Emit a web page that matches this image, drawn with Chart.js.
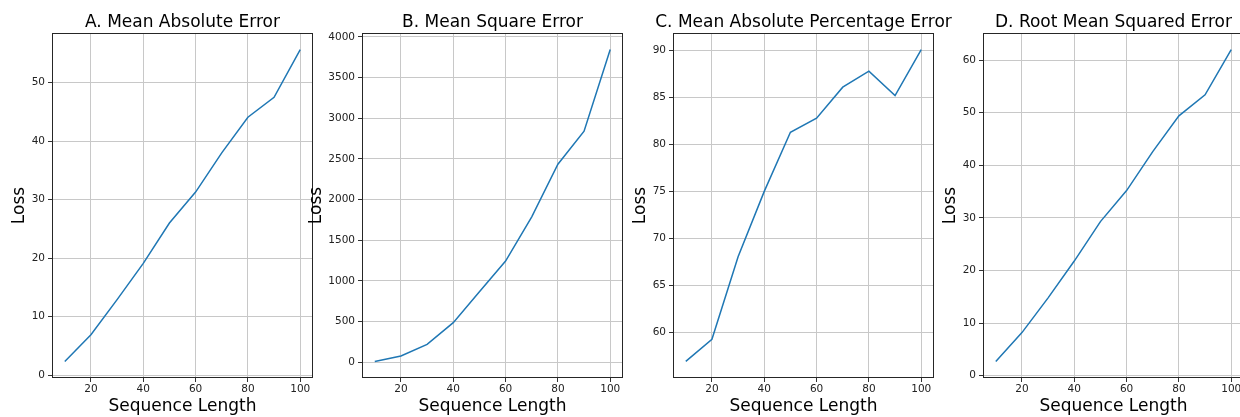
<!DOCTYPE html>
<html>
<head>
<meta charset="utf-8">
<script src="https://cdn.jsdelivr.net/npm/chart.js@4.4.1/dist/chart.umd.min.js"></script>
<style>
  html, body { margin: 0; padding: 0; background: #fff; overflow: hidden; }
  #wrap { position: relative; width: 1240px; height: 417px; overflow: hidden; }
  canvas { position: absolute; top: 0; }
</style>
</head>
<body>
<div id="wrap">
  <canvas id="maeChart" width="349" height="417" style="left:8px"></canvas>
  <canvas id="mseChart" width="373" height="417" style="left:306px"></canvas>
  <canvas id="mapeChart" width="349" height="417" style="left:629px"></canvas>
  <canvas id="rmseChart" width="347" height="417" style="left:940px"></canvas>
</div>
<script>
// values
const seqLength = [10, 20, 30, 40, 50, 60, 70, 80, 90, 100];
const maeLoss = [2.33, 6.9, 12.9, 19.1, 26.0, 31.3, 38.0, 44.1, 47.5, 55.67];
const mseLoss = [11, 78, 221, 487, 868, 1245, 1789, 2436, 2841, 3845];
const mapeLoss = [56.9, 59.26, 68.05, 75.0, 81.3, 82.8, 86.1, 87.8, 85.2, 90.1];
const rmseLoss = [2.72, 8.2, 14.8, 21.8, 29.3, 35.2, 42.6, 49.4, 53.4, 62.0];

// tick labels
const xTicks = [20, 40, 60, 80, 100];
const maeTicks = [0, 10, 20, 30, 40, 50];
const mseTicks = [0, 500, 1000, 1500, 2000, 2500, 3000, 3500, 4000];
const mapeTicks = [60, 65, 70, 75, 80, 85, 90];
const rmseTicks = [0, 10, 20, 30, 40, 50, 60];

const FONT = "'DejaVu Sans', sans-serif";

// matplotlib style 5% margins
function limits(arr) {
  const lo = Math.min(...arr), hi = Math.max(...arr);
  const m = (hi - lo) * 0.05;
  return { min: lo - m, max: hi + m };
}

// draws the four spines round the plot area
const frame = {
  id: 'frame',
  afterDatasetsDraw(chart) {
    const { ctx, chartArea: a } = chart;
    ctx.save();
    ctx.strokeStyle = '#262626';
    ctx.lineWidth = 1;
    const l = Math.round(a.left) - 0.5, t = Math.round(a.top) - 0.5;
    const r = Math.round(a.right) + 0.5, b = Math.round(a.bottom) + 0.5;
    ctx.strokeRect(l, t, r - l, b - t);
    ctx.restore();
  }
};

// an empty right axis as wide as the left one keeps the title centred on the plot
function makeChart(id, title, values, yTicks, yWidth, lossPad) {
  const xl = limits(seqLength);
  const yl = limits(values);
  const grid = {
    color: '#c8c8c8',
    lineWidth: 1,
    tickLength: 5,
    tickColor: '#333',
    tickWidth: 1
  };
  return new Chart(document.getElementById(id), {
    type: 'line',
    data: {
      datasets: [{
        data: seqLength.map((x, i) => ({ x: x, y: values[i] })),
        borderColor: '#1f77b4',
        borderWidth: 1.5,
        pointRadius: 0,
        fill: false,
        tension: 0
      }]
    },
    options: {
      responsive: false,
      animation: false,
      devicePixelRatio: 1,
      layout: { padding: 0 },
      plugins: {
        legend: { display: false },
        tooltip: { enabled: false },
        title: {
          display: true,
          text: title,
          color: '#000',
          fullSize: true,
          font: { family: FONT, size: 17, weight: 'normal', lineHeight: 1.2 },
          padding: { top: 12.2, bottom: 1.4 }
        }
      },
      scales: {
        x: {
          type: 'linear',
          min: xl.min,
          max: xl.max,
          afterBuildTicks: s => { s.ticks = xTicks.map(v => ({ value: v })); },
          afterFit: s => { s.height = 40; },
          grid: grid,
          border: { display: false },
          ticks: {
            color: '#222',
            padding: 1,
            maxRotation: 0,
            font: { family: FONT, size: 10.5, lineHeight: 1.2 },
            callback: v => String(v)
          },
          title: {
            display: true,
            text: 'Sequence Length',
            color: '#000',
            font: { family: FONT, size: 17, lineHeight: 1.2 },
            padding: { top: 0, bottom: 0 }
          }
        },
        y: {
          type: 'linear',
          min: yl.min,
          max: yl.max,
          afterBuildTicks: s => { s.ticks = yTicks.map(v => ({ value: v })); },
          afterFit: s => { s.width = yWidth; },
          grid: grid,
          border: { display: false },
          ticks: {
            color: '#222',
            padding: 3,
            font: { family: FONT, size: 10.5, lineHeight: 1.2 },
            callback: v => String(v)
          },
          title: {
            display: true,
            text: 'Loss',
            color: '#000',
            font: { family: FONT, size: 17, lineHeight: 1.2 },
            padding: { top: lossPad, bottom: 0 }
          }
        },
        spacer: {
          type: 'linear',
          position: 'right',
          afterFit: s => { s.width = yWidth; },
          grid: { display: false, drawTicks: false },
          border: { display: false },
          ticks: { display: false }
        }
      }
    },
    plugins: [frame]
  });
}

makeChart('maeChart', 'A. Mean Absolute Error', maeLoss, maeTicks, 45, 0.9);
makeChart('mseChart', 'B. Mean Square Error', mseLoss, mseTicks, 57, 0.6);
makeChart('mapeChart', 'C. Mean Absolute Percentage Error', mapeLoss, mapeTicks, 45, 0.9);
makeChart('rmseChart', 'D. Root Mean Squared Error', rmseLoss, rmseTicks, 44, 0.6);
</script>
</body>
</html>
